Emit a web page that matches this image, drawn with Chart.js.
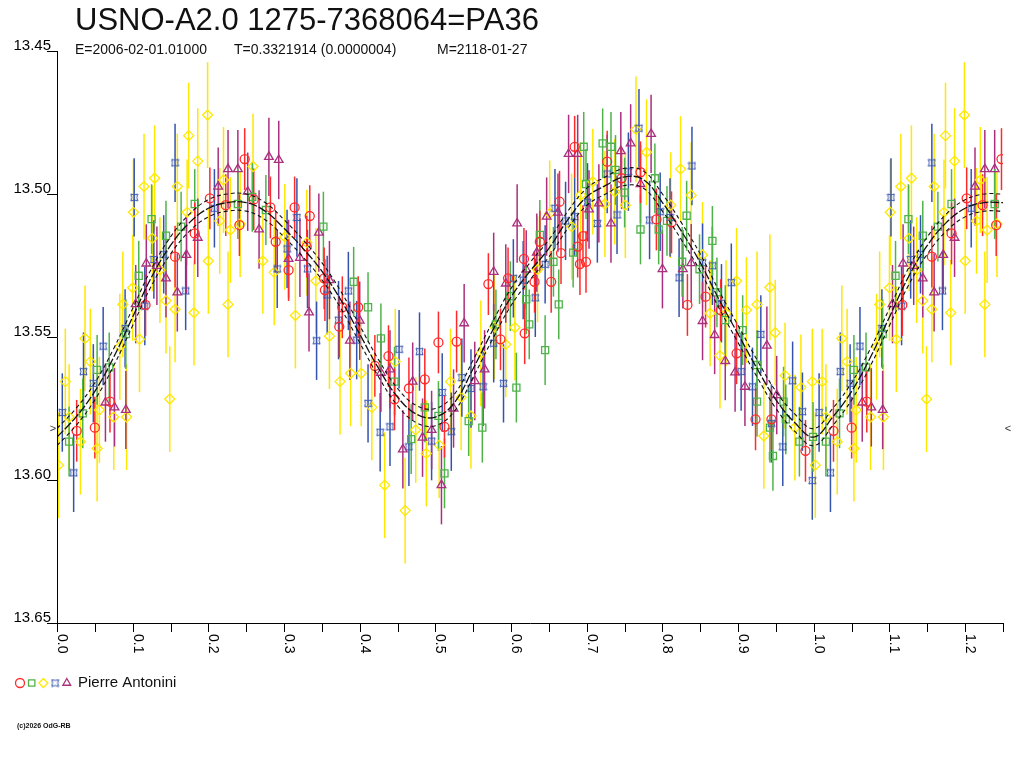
<!DOCTYPE html>
<html>
<head>
<meta charset="utf-8">
<title>USNO-A2.0 1275-7368064=PA36</title>
<script src="https://cdn.jsdelivr.net/npm/chart.js@4.4.1/dist/chart.umd.min.js"></script>
<style>
  html, body { margin: 0; padding: 0; background: #fff; }
  #wrap { width: 1024px; height: 768px; }
</style>
</head>
<body>
<div id="wrap"><canvas id="lc" width="1024" height="768"></canvas></div>
<script>
const TITLE = 'USNO-A2.0 1275-7368064=PA36';
const SUB_E = 'E=2006-02-01.01000';
const SUB_T = 'T=0.3321914 (0.0000004)';
const SUB_M = 'M=2118-01-27';
const OBSERVER = 'Pierre Antonini';
const COPYRIGHT = '(c)2026 OdG-RB';

const X_MAX = 1.25;
const Y_TICKS = [13.45, 13.50, 13.55, 13.60, 13.65];
const X_LABELS = [0.0, 0.1, 0.2, 0.3, 0.4, 0.5, 0.6, 0.7, 0.8, 0.9, 1.0, 1.1, 1.2];
const X_TICKS = [0, 0.05, 0.1, 0.15, 0.2, 0.25, 0.3, 0.35, 0.4, 0.45, 0.5, 0.55, 0.6, 0.65,
  0.7, 0.75, 0.8, 0.85, 0.9, 0.95, 1.0, 1.05, 1.1, 1.15, 1.2, 1.25];
const MEAN_MARK = 13.582;

// phase, magnitude  (phases below 0.25 are repeated after 1.0)
const RED = [
  [0.026, 13.5828], [0.050, 13.5817], [0.070, 13.5726], [0.117, 13.5388], [0.156, 13.5219],
  [0.182, 13.5138], [0.202, 13.5015], [0.223, 13.5039], [0.241, 13.5109], [0.248, 13.4878],
  [0.260, 13.5019], [0.282, 13.5047], [0.289, 13.5167], [0.306, 13.5266], [0.314, 13.5047],
  [0.334, 13.5077], [0.330, 13.5184], [0.353, 13.5295], [0.354, 13.5336], [0.377, 13.5396],
  [0.373, 13.5464], [0.398, 13.5396], [0.420, 13.5601], [0.438, 13.5567], [0.446, 13.5718],
  [0.465, 13.5680], [0.486, 13.5648], [0.504, 13.5519], [0.512, 13.5814], [0.528, 13.5516],
  [0.570, 13.5315], [0.586, 13.5508], [0.596, 13.5295], [0.617, 13.5227], [0.618, 13.5487],
  [0.631, 13.5307], [0.638, 13.5167], [0.653, 13.5307], [0.664, 13.5027], [0.666, 13.5207],
  [0.684, 13.4835], [0.688, 13.5184], [0.691, 13.5245], [0.695, 13.5147], [0.699, 13.5237],
  [0.727, 13.4887], [0.746, 13.4945], [0.771, 13.4924], [0.792, 13.5089], [0.812, 13.5099],
  [0.833, 13.5388], [0.857, 13.5359], [0.877, 13.5406], [0.898, 13.5557], [0.923, 13.5788],
  [0.944, 13.5788], [0.989, 13.5898]
];
const GREEN = [
  [0.016, 13.5866], [0.034, 13.5767], [0.053, 13.5615], [0.069, 13.5606], [0.091, 13.5490],
  [0.108, 13.5286], [0.125, 13.5088], [0.144, 13.5146], [0.164, 13.5114], [0.182, 13.5035],
  [0.239, 13.5035], [0.258, 13.5010], [0.276, 13.5056], [0.352, 13.5114], [0.392, 13.5307],
  [0.411, 13.5396], [0.428, 13.5505], [0.446, 13.5656], [0.468, 13.5857], [0.486, 13.5746],
  [0.504, 13.5776], [0.512, 13.5977], [0.544, 13.5794], [0.562, 13.5817], [0.580, 13.5456],
  [0.599, 13.5357], [0.607, 13.5677], [0.620, 13.5368], [0.624, 13.5456], [0.638, 13.5143],
  [0.645, 13.5546], [0.656, 13.5237], [0.663, 13.5386], [0.682, 13.5205], [0.696, 13.4835],
  [0.699, 13.4965], [0.721, 13.4823], [0.732, 13.4835], [0.738, 13.4916], [0.750, 13.4995],
  [0.771, 13.5124], [0.790, 13.4945], [0.795, 13.5124], [0.806, 13.5094], [0.826, 13.5237],
  [0.832, 13.5076], [0.849, 13.5263], [0.866, 13.5164], [0.872, 13.5344], [0.883, 13.5441],
  [0.906, 13.5476], [0.925, 13.5598], [0.925, 13.5726], [0.942, 13.5817], [0.946, 13.5916],
  [0.960, 13.5726], [0.963, 13.5788], [0.981, 13.5866], [0.999, 13.5849]
];
const YELLOW = [
  [0.002, 13.5948], [0.011, 13.5656], [0.016, 13.5780], [0.031, 13.5866], [0.037, 13.5505],
  [0.044, 13.5586], [0.053, 13.5890], [0.056, 13.5755], [0.075, 13.5780], [0.083, 13.5534],
  [0.087, 13.5386], [0.092, 13.5780], [0.100, 13.5328], [0.101, 13.5064], [0.109, 13.5508],
  [0.115, 13.4974], [0.126, 13.5155], [0.129, 13.4945], [0.136, 13.5266], [0.144, 13.5373],
  [0.149, 13.5717], [0.156, 13.5403], [0.159, 13.4974], [0.172, 13.5064], [0.174, 13.4796],
  [0.181, 13.5415], [0.186, 13.4885], [0.199, 13.4724], [0.200, 13.5234], [0.215, 13.5094],
  [0.220, 13.4951], [0.226, 13.5386], [0.229, 13.5126], [0.242, 13.5105], [0.259, 13.4904],
  [0.272, 13.5234], [0.287, 13.5274], [0.301, 13.5150], [0.315, 13.5425], [0.330, 13.5170],
  [0.342, 13.5304], [0.360, 13.5497], [0.374, 13.5656], [0.388, 13.5627], [0.402, 13.5627],
  [0.416, 13.5746], [0.433, 13.6018], [0.447, 13.5586], [0.460, 13.6107], [0.474, 13.5825],
  [0.488, 13.5907], [0.505, 13.5878], [0.520, 13.5656], [0.534, 13.5711], [0.547, 13.5776],
  [0.560, 13.5557], [0.578, 13.5464], [0.593, 13.5526], [0.605, 13.5467], [0.635, 13.5264],
  [0.651, 13.5068], [0.680, 13.5114], [0.692, 13.5004], [0.708, 13.4957], [0.724, 13.5035],
  [0.737, 13.4992], [0.751, 13.5039], [0.765, 13.4774], [0.779, 13.4854], [0.811, 13.5039],
  [0.824, 13.4913], [0.838, 13.5004], [0.853, 13.5213], [0.863, 13.5417], [0.876, 13.5565],
  [0.884, 13.5417], [0.898, 13.5304], [0.911, 13.5406], [0.925, 13.5386], [0.934, 13.5846],
  [0.942, 13.5326], [0.949, 13.5485], [0.962, 13.5635], [0.975, 13.5817], [0.983, 13.5676],
  [0.998, 13.5656]
];
const BLUE = [
  [0.007, 13.5764], [0.022, 13.5975], [0.035, 13.5621], [0.048, 13.5662], [0.061, 13.5532],
  [0.090, 13.5470], [0.102, 13.5012], [0.116, 13.5392], [0.128, 13.5229], [0.141, 13.5211],
  [0.156, 13.4891], [0.170, 13.5339], [0.208, 13.5050], [0.291, 13.5262], [0.304, 13.5192],
  [0.317, 13.5082], [0.331, 13.5262], [0.343, 13.5513], [0.357, 13.5353], [0.372, 13.5441],
  [0.385, 13.5339], [0.396, 13.5511], [0.411, 13.5732], [0.427, 13.5833], [0.440, 13.5814],
  [0.452, 13.5543], [0.465, 13.5884], [0.479, 13.5551], [0.495, 13.5864], [0.509, 13.5694],
  [0.521, 13.5831], [0.535, 13.5642], [0.547, 13.5680], [0.563, 13.5674], [0.577, 13.5522],
  [0.590, 13.5662], [0.603, 13.5295], [0.616, 13.5301], [0.632, 13.5363], [0.645, 13.5246],
  [0.658, 13.5050], [0.672, 13.5094], [0.684, 13.5079], [0.701, 13.5029], [0.714, 13.5103],
  [0.727, 13.4930], [0.740, 13.5073], [0.755, 13.4922], [0.769, 13.4770], [0.783, 13.5091],
  [0.797, 13.5062], [0.810, 13.5082], [0.822, 13.5293], [0.839, 13.4902], [0.853, 13.5240],
  [0.866, 13.5251], [0.878, 13.5382], [0.891, 13.5310], [0.904, 13.5621], [0.919, 13.5674],
  [0.930, 13.5491], [0.944, 13.5802], [0.959, 13.5884], [0.972, 13.5653], [0.985, 13.5761],
  [0.998, 13.6002]
];
const PURPLE = [
  [0.064, 13.5729], [0.076, 13.5746], [0.091, 13.5755], [0.104, 13.5385], [0.118, 13.5243],
  [0.132, 13.5251], [0.144, 13.5295], [0.159, 13.5344], [0.171, 13.5213], [0.186, 13.5153],
  [0.213, 13.4974], [0.226, 13.4913], [0.239, 13.4913], [0.252, 13.4992], [0.267, 13.5124],
  [0.280, 13.4870], [0.293, 13.4881], [0.306, 13.5227], [0.321, 13.5223], [0.333, 13.5414],
  [0.346, 13.5135], [0.360, 13.5301], [0.387, 13.5513], [0.400, 13.5443], [0.428, 13.5625],
  [0.440, 13.5613], [0.457, 13.5893], [0.470, 13.5656], [0.483, 13.5852], [0.495, 13.5825],
  [0.508, 13.6018], [0.524, 13.5750], [0.538, 13.5452], [0.552, 13.5654], [0.565, 13.5613],
  [0.577, 13.5272], [0.593, 13.5313], [0.608, 13.5103], [0.620, 13.5264], [0.634, 13.5205],
  [0.647, 13.5079], [0.662, 13.5065], [0.676, 13.4860], [0.688, 13.4860], [0.703, 13.5054],
  [0.716, 13.5033], [0.732, 13.5103], [0.745, 13.4850], [0.758, 13.4823], [0.771, 13.4965],
  [0.785, 13.4790], [0.800, 13.5263], [0.827, 13.5263], [0.838, 13.5242], [0.853, 13.5444],
  [0.869, 13.5493], [0.883, 13.5584], [0.896, 13.5624], [0.909, 13.5674], [0.938, 13.5530],
  [0.951, 13.5703]
];

// typical error bar half lengths (mag)
const ERR_RED = 0.0108;
const ERR_GREEN = 0.0122;
const ERR_YELLOW = 0.0185;
const ERR_BLUE = 0.0137;
const ERR_PURPLE = 0.0137;

const FIT_PHASE = [0, 0.025, 0.05, 0.075, 0.1, 0.125, 0.15, 0.175, 0.2, 0.225, 0.25, 0.275, 0.3,
  0.325, 0.35, 0.375, 0.4, 0.425, 0.45, 0.475, 0.5, 0.525, 0.55, 0.575, 0.6, 0.625, 0.65, 0.675,
  0.7, 0.725, 0.75, 0.775, 0.8, 0.825, 0.85, 0.875, 0.9, 0.925, 0.95, 0.975, 1.0, 1.025, 1.05,
  1.075, 1.1, 1.125, 1.15, 1.175, 1.2, 1.225, 1.25];
const FIT_MID = [13.585, 13.578, 13.569, 13.557, 13.543, 13.529, 13.518, 13.510, 13.505, 13.503,
  13.503, 13.506, 13.512, 13.519, 13.527, 13.537, 13.549, 13.561, 13.571, 13.577,
  13.578, 13.573, 13.561, 13.548, 13.536, 13.527, 13.519, 13.509, 13.501, 13.497,
  13.494, 13.495, 13.503, 13.513, 13.524, 13.537, 13.549, 13.561, 13.572, 13.580,
  13.585, 13.578, 13.569, 13.557, 13.543, 13.529, 13.518, 13.510, 13.505, 13.503, 13.503];
const FIT_HI = [13.582, 13.575, 13.566, 13.554, 13.540, 13.526, 13.515, 13.507, 13.502, 13.500,
  13.500, 13.503, 13.509, 13.516, 13.524, 13.534, 13.546, 13.558, 13.568, 13.574,
  13.575, 13.570, 13.558, 13.545, 13.533, 13.524, 13.516, 13.506, 13.498, 13.494,
  13.491, 13.492, 13.500, 13.510, 13.521, 13.534, 13.546, 13.558, 13.569, 13.577,
  13.582, 13.575, 13.566, 13.554, 13.540, 13.526, 13.515, 13.507, 13.502, 13.500, 13.500];
const FIT_LO = [13.588, 13.581, 13.572, 13.560, 13.546, 13.532, 13.521, 13.513, 13.508, 13.506,
  13.506, 13.509, 13.515, 13.522, 13.530, 13.540, 13.552, 13.564, 13.574, 13.580,
  13.581, 13.576, 13.564, 13.551, 13.539, 13.530, 13.522, 13.512, 13.504, 13.500,
  13.497, 13.498, 13.506, 13.516, 13.527, 13.540, 13.552, 13.564, 13.575, 13.583,
  13.588, 13.581, 13.572, 13.560, 13.546, 13.532, 13.521, 13.513, 13.508, 13.506, 13.506];

const FONT = '"Liberation Sans", Arial, Helvetica, sans-serif';

// the blue observer mark: small square with pinched sides
function blueMark(color) {
  const c = document.createElement('canvas');
  c.width = 9; c.height = 9;
  const g = c.getContext('2d');
  g.strokeStyle = color;
  g.lineWidth = 1;
  g.beginPath();
  g.moveTo(1, 1);
  g.quadraticCurveTo(4.5, 3, 8, 1);
  g.quadraticCurveTo(6, 4.5, 8, 8);
  g.quadraticCurveTo(4.5, 6, 1, 8);
  g.quadraticCurveTo(3, 4.5, 1, 1);
  g.stroke();
  return c;
}

function folded(pairs) {
  const pts = pairs.map(p => ({ x: p[0], y: p[1] }));
  pairs.forEach(p => {
    if (p[0] + 1 <= X_MAX) pts.push({ x: p[0] + 1, y: p[1] });
  });
  return pts;
}

function curve(vals) {
  return FIT_PHASE.map((ph, i) => ({ x: ph, y: vals[i] }));
}

function obsSet(pairs, color, style, radius, err, order) {
  return {
    type: 'scatter',
    data: folded(pairs),
    borderColor: color,
    backgroundColor: 'rgba(0,0,0,0)',
    pointStyle: style,
    pointRadius: radius,
    pointHoverRadius: radius,
    pointBorderWidth: 1.3,
    err: err,
    order: order
  };
}

function fitSet(vals, dash, width) {
  return {
    type: 'line',
    data: curve(vals),
    borderColor: '#111',
    borderWidth: width,
    borderDash: dash,
    pointRadius: 0,
    tension: 0.4,
    fill: false,
    order: 0
  };
}

const blueStyle = blueMark('#3453ad');

const series = [
  obsSet(RED, '#ff2a2a', 'circle', 4.5, ERR_RED, 1),
  obsSet(GREEN, '#4fb34a', 'rect', 5, ERR_GREEN, 2),
  obsSet(PURPLE, '#aa2f7d', 'triangle', 5, ERR_PURPLE, 3),
  obsSet(BLUE, '#3453ad', blueStyle, 4.5, ERR_BLUE, 4),
  obsSet(YELLOW, '#ffe800', 'rectRot', 5, ERR_YELLOW, 5)
];

const errBars = {
  id: 'errBars',
  beforeDatasetsDraw(chart) {
    const { ctx, chartArea: a } = chart;
    const x = chart.scales.x, y = chart.scales.y;
    ctx.save();
    ctx.beginPath();
    ctx.rect(a.left, a.top, a.right - a.left, a.bottom - a.top);
    ctx.clip();
    ctx.lineWidth = 1.5;
    const sets = chart.data.datasets.filter(d => d.err).sort((p, q) => q.order - p.order);
    sets.forEach(ds => {
      ctx.strokeStyle = ds.borderColor;
      ds.data.forEach(p => {
        const px = x.getPixelForValue(p.x);
        ctx.beginPath();
        ctx.moveTo(px, y.getPixelForValue(p.y - ds.err));
        ctx.lineTo(px, y.getPixelForValue(p.y + ds.err));
        ctx.stroke();
      });
    });
    ctx.restore();
  }
};

const frame = {
  id: 'frame',
  afterDraw(chart) {
    const { ctx, chartArea: a } = chart;
    const x = chart.scales.x, y = chart.scales.y;
    ctx.save();
    ctx.strokeStyle = '#000';
    ctx.lineWidth = 1;
    ctx.beginPath();
    ctx.moveTo(a.left + 0.5, a.top);
    ctx.lineTo(a.left + 0.5, a.bottom + 0.5);
    ctx.lineTo(a.right, a.bottom + 0.5);
    ctx.stroke();

    ctx.fillStyle = '#000';
    ctx.font = '15px ' + FONT;
    ctx.textAlign = 'right';
    ctx.textBaseline = 'alphabetic';
    Y_TICKS.forEach(v => {
      const py = Math.round(y.getPixelForValue(v)) + 0.5;
      ctx.beginPath();
      ctx.moveTo(a.left - 10, py);
      ctx.lineTo(a.left, py);
      ctx.stroke();
      ctx.fillText(v.toFixed(2), a.left - 6, py - 2);
    });

    X_TICKS.forEach(v => {
      const px = Math.round(x.getPixelForValue(v)) + 0.5;
      ctx.beginPath();
      ctx.moveTo(px, a.bottom);
      ctx.lineTo(px, a.bottom + 9);
      ctx.stroke();
    });
    ctx.font = '14px ' + FONT;
    ctx.textAlign = 'left';
    X_LABELS.forEach(v => {
      const px = Math.round(x.getPixelForValue(v));
      ctx.save();
      ctx.translate(px + 1, a.bottom + 11);
      ctx.rotate(Math.PI / 2);
      ctx.fillText(v.toFixed(1), 0, 0);
      ctx.restore();
    });

    // mean level marks
    const my = y.getPixelForValue(MEAN_MARK);
    ctx.font = '11px ' + FONT;
    ctx.fillStyle = '#333';
    ctx.textBaseline = 'middle';
    ctx.textAlign = 'center';
    ctx.fillText('>', a.left - 4, my);
    ctx.fillText('<', a.right + 5, my);

    // title
    ctx.fillStyle = '#111';
    ctx.textAlign = 'left';
    ctx.textBaseline = 'alphabetic';
    ctx.font = '31px ' + FONT;
    ctx.fillText(TITLE, 75, 30);
    ctx.font = '14px ' + FONT;
    ctx.fillText(SUB_E, 75, 54);
    ctx.fillText(SUB_T, 234, 54);
    ctx.fillText(SUB_M, 437, 54);

    // legend
    const ly = 683;
    let lx = 20;
    [0, 1, 4, 3, 2].forEach(i => {
      const ds = series[i];
      ctx.strokeStyle = ds.borderColor;
      ctx.fillStyle = 'rgba(0,0,0,0)';
      ctx.lineWidth = 1.3;
      Chart.helpers.drawPoint(ctx, { pointStyle: ds.pointStyle, radius: 4.5, borderWidth: 1.3, rotation: 0 }, lx, ly);
      lx += 11.7;
    });
    ctx.fillStyle = '#111';
    ctx.font = '15px ' + FONT;
    ctx.textBaseline = 'middle';
    ctx.fillText(OBSERVER, 78, ly);

    ctx.font = 'bold 7px ' + FONT;
    ctx.fillText(COPYRIGHT, 17, 726);
    ctx.restore();
  }
};

new Chart(document.getElementById('lc'), {
  type: 'scatter',
  data: {
    datasets: [
      fitSet(FIT_MID, [9, 2], 1.3),
      fitSet(FIT_HI, [4, 3], 1.1),
      fitSet(FIT_LO, [4, 3], 1.1)
    ].concat(series)
  },
  options: {
    responsive: false,
    animation: false,
    devicePixelRatio: 1,
    layout: { padding: { left: 57, top: 51, right: 21, bottom: 145 } },
    plugins: {
      legend: { display: false },
      tooltip: { enabled: false },
      title: { display: false }
    },
    scales: {
      x: { type: 'linear', min: 0, max: X_MAX, display: false },
      y: { type: 'linear', min: 13.45, max: 13.65, reverse: true, display: false }
    }
  },
  plugins: [errBars, frame]
});
</script>
</body>
</html>
